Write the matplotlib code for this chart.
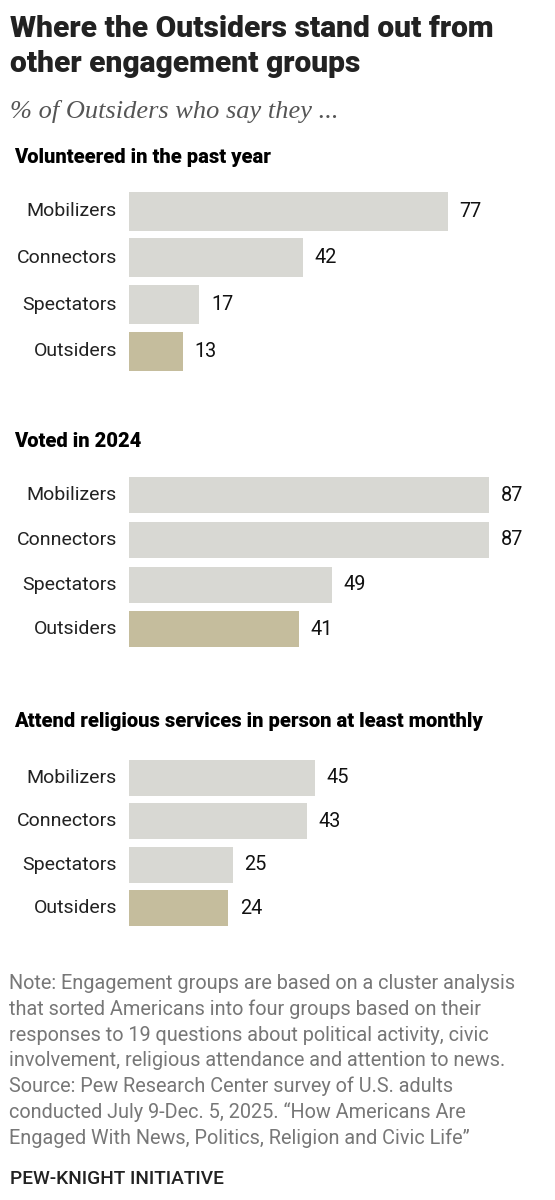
import matplotlib
matplotlib.use("Agg")
import matplotlib.pyplot as plt

W, H = 555, 1200

# ---------------- data ----------------
categories = ["Mobilizers", "Connectors", "Spectators", "Outsiders"]
volunteered = [77, 42, 17, 13]
voted = [87, 87, 49, 41]
religious = [45, 43, 25, 24]
panel_titles = [
    "Volunteered in the past year",
    "Voted in 2024",
    "Attend religious services in person at least monthly",
]
title_lines = ["Where the Outsiders stand out from", "other engagement groups"]
subtitle = "% of Outsiders who say they ..."
note_lines = [
    "Note: Engagement groups are based on a cluster analysis",
    "that sorted Americans into four groups based on their",
    "responses to 19 questions about political activity, civic",
    "involvement, religious attendance and attention to news.",
    "Source: Pew Research Center survey of U.S. adults",
    "conducted July 9-Dec. 5, 2025. \u201cHow Americans Are",
    "Engaged With News, Politics, Religion and Civic Life\u201d",
]
footer = "PEW-KNIGHT INITIATIVE"

# ---------------- style ----------------
GRAY = "#d8d8d3"
TAN = "#c5bd9d"
HEAVY = ["Roboto", "DejaVu Sans"]
SANS = ["Roboto", "DejaVu Sans"]
SERIF = ["Liberation Serif", "DejaVu Serif"]

fig = plt.figure(figsize=(W / 100, H / 100), dpi=100)
fig.patch.set_facecolor("white")
renderer = fig.canvas.get_renderer()


def fit_text(x, y, s, target_w, size, **kw):
    t = fig.text(x / W, 1 - y / H, s, fontsize=size, va="baseline", **kw)
    w = t.get_window_extent(renderer).width
    t.set_fontsize(size * target_w / w)
    return t


# title
tt = fit_text(10, 37, title_lines[0], 484, 18, family=HEAVY, weight="heavy", color="#222222")
fig.text(10 / W, 1 - 72 / H, title_lines[1], fontsize=tt.get_fontsize(), family=HEAVY,
         weight="heavy", color="#222222", va="baseline")

# subtitle
fit_text(10, 118, subtitle, 329, 15, family=SERIF, style="italic", color="#555555")

# panels
px_per_unit = 4.14
ax_left, ax_w = 129, 400
panels = [
    (volunteered, 187.85, 374.65, 0.835, 163),
    (voted, 472.97, 651.6, 0.806, 447),
    (religious, 756.3, 929.7, 0.83, 727),
]

st = fit_text(14, 163, panel_titles[0], 256, 13, family=HEAVY, weight="heavy", color="#000000")
st_size = st.get_fontsize()

for k, (vals, top, bot, bh, ty) in enumerate(panels):
    if k > 0:
        fig.text(14 / W, 1 - ty / H, panel_titles[k], fontsize=st_size, family=HEAVY,
                 weight="heavy", color="#000000", va="baseline")
    ax = fig.add_axes([ax_left / W, 1 - bot / H, ax_w / W, (bot - top) / H])
    colors = [GRAY] * (len(vals) - 1) + [TAN]
    ax.barh(range(len(vals)), vals, height=bh, color=colors)
    ax.set_xlim(0, ax_w / px_per_unit)
    ax.set_ylim(len(vals) - 0.5, -0.5)
    ax.axis("off")
    for i, v in enumerate(vals):
        ax.annotate(str(v), (v, i), xytext=(11.6 * 0.72, 0), textcoords="offset points",
                    va="center", ha="left", fontsize=14.3, family=SANS, color="#111111")
        ax.annotate(categories[i], (0, i), xytext=(-12 * 0.72, 0), textcoords="offset points",
                    va="center", ha="right", fontsize=14.0, family=SANS, color="#222222")

# note
nt = fit_text(9, 989, note_lines[0], 505, 12, family=SANS, color="#777777")
n_size = nt.get_fontsize()
for i, line in enumerate(note_lines[1:], start=1):
    fig.text(9 / W, 1 - (989 + i * 25.8) / H, line, fontsize=n_size, family=SANS,
             color="#777777", va="baseline")

# footer
fit_text(10, 1184, footer, 215, 12, family=SANS, weight="medium", color="#222222")

fig.savefig("out.png", dpi=100)
